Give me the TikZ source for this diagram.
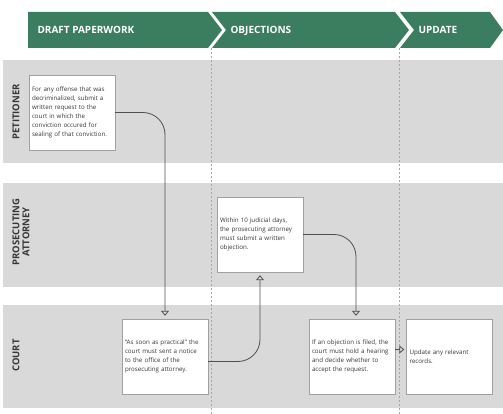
\documentclass[tikz,border=0pt]{standalone}
\usepackage{fontspec}
\setmainfont{Open Sans}
\usepackage{pgf, tikz}
\usetikzlibrary{arrows.meta}
\definecolor{phasegreen}{RGB}{58,125,95}
\definecolor{lanegray}{RGB}{217,217,217}
\definecolor{boxline}{RGB}{160,160,160}
\definecolor{flowline}{RGB}{80,80,80}
\definecolor{txtgray}{RGB}{55,55,55}

\begin{document}
\begin{tikzpicture}[x=1pt,y=-1pt,
	phase/.style={font=\bfseries\fontsize{10}{11}\selectfont, text=white, anchor=base west},
	lanelabel/.style={font=\bfseries\fontsize{9.5}{10}\selectfont, text=txtgray, rotate=90, align=center},
	stepbox/.style={draw=boxline, fill=white, minimum height=75pt, text width=80pt, inner sep=3pt,
		align=left, font=\fontsize{6.2}{9}\selectfont, text=txtgray},
	flow/.style={draw=flowline, line width=0.8pt, rounded corners=22pt,
		-{Triangle[open, width=8pt, length=5pt]}, shorten >=3pt}]
	
	\useasboundingbox (0,0) rectangle (503,414);
	
	\foreach \ya/\yb in {60/163,183/287,305/408}
	{
		\fill[lanegray] (3,\ya) rectangle (503,\yb);
	}
	\foreach \x in {211,399}
	{
		\draw[gray!70, dash pattern=on 2pt off 2pt, line width=0.5pt] (\x,48) -- (\x,414);
	}
	
	\fill[phasegreen] (28,12) -- (208,12) -- (222,30) -- (208,48) -- (28,48) -- cycle;
	\fill[phasegreen] (212,12) -- (395,12) -- (409,30) -- (395,48) -- (212,48) -- (226,30) -- cycle;
	\fill[phasegreen] (400,12) -- (490,12) -- (503,30) -- (490,48) -- (400,48) -- (414,30) -- cycle;
	\node[phase] (draft) at (34,33.5) {DRAFT PAPERWORK};
	\node[phase] (objections) at (227,33.5) {OBJECTIONS};
	\node[phase] (update) at (415,33.5) {UPDATE};
	
	\node[lanelabel] (petitioner) at (16,112) {PETITIONER};
	\node[lanelabel] (prosecutor) at (21,232) {PROSECUTING\\ATTORNEY};
	\node[lanelabel] (court) at (16,355.5) {COURT};
	
	\node[stepbox] (request) at (72,112.5) {For any offense that was\\decriminalized, submit a\\written request to the\\court in which the\\conviction occured for\\sealing of that conviction.};
	\node[stepbox] (notice) at (165,356.5) {``As soon as practical'' the\\court must sent a notice\\to the office of the\\prosecuting attorney.};
	\node[stepbox] (objection) at (260,234.5) {Within 10 judicial days,\\the prosecuting attorney\\must submit a written\\objection.};
	\node[stepbox] (hearing) at (352,356.5) {If an objection is filed, the\\court must hold a hearing\\and decide whether to\\accept the request.};
	\node[stepbox] (records) at (449.5,356.5) {Update any relevant\\records.};
	
	\draw[flow] (request.east) -| (notice.north);
	\draw[flow] ([yshift=-5pt]notice.east) -| (objection.south);
	\draw[flow] (objection.east) -| ([xshift=4pt]hearing.north);
	\draw[flow, shorten >=2pt] ([yshift=7pt]hearing.east) -- ([yshift=7pt]records.west);
\end{tikzpicture}
\end{document}
